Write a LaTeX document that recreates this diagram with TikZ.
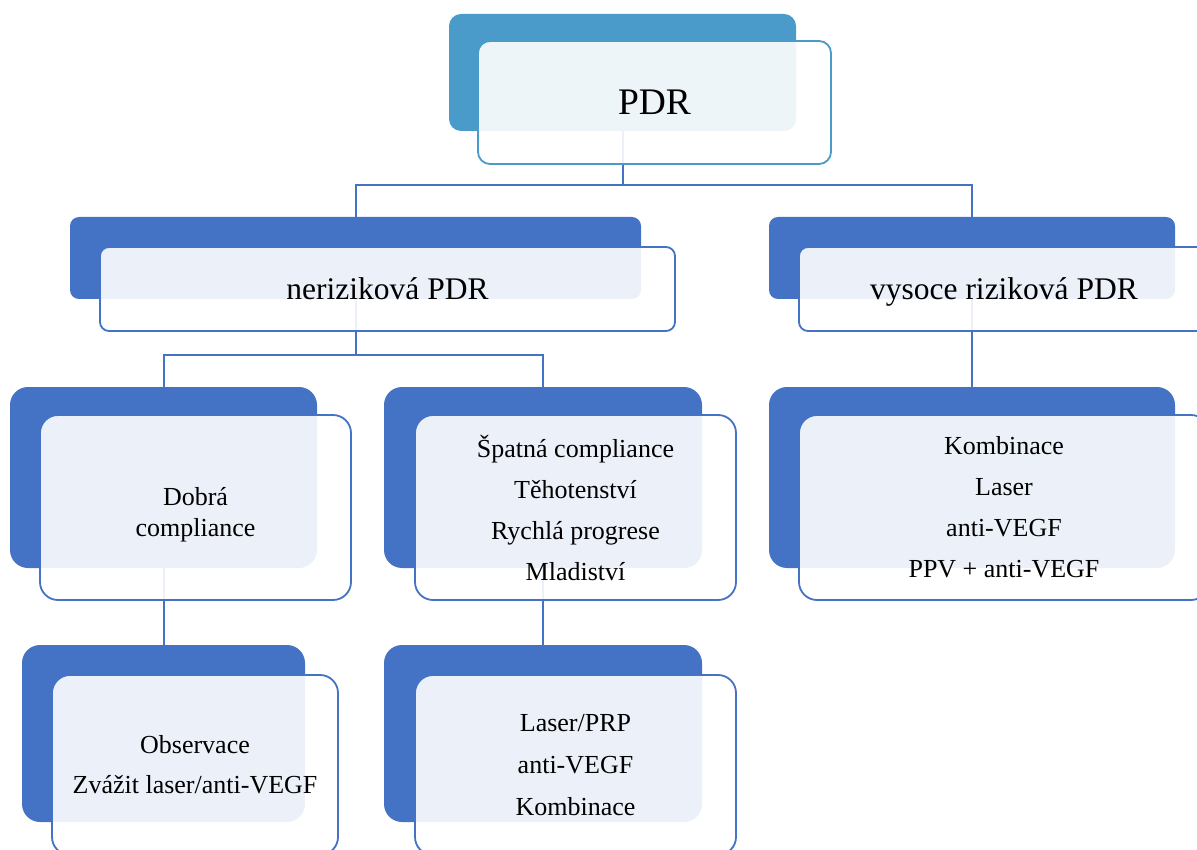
\documentclass[tikz,border=0pt]{standalone}
\usepackage{fontspec}
\setmainfont{Liberation Serif}
\definecolor{officeblue}{HTML}{4472C4}
\definecolor{topteal}{HTML}{4A9BC9}
\tikzstyle{backbox} = [rectangle, rounded corners=18pt, fill=officeblue, inner sep=0pt]
\tikzstyle{frontbox} = [rectangle, rounded corners=18pt, draw=officeblue, line width=1.8pt, fill=white, fill opacity=0.9, text opacity=1, inner sep=0pt, align=center, font={\fontsize{26}{41}\selectfont}]
\tikzstyle{link} = [draw=officeblue, line width=2pt]

\begin{document}
\begin{tikzpicture}[x=1pt, y=-1pt]

    \useasboundingbox (0,0) rectangle (1197,850);
    \clip (0,0) rectangle (1197,850);

    \node (pdrBack) [backbox, fill=topteal, rounded corners=12pt, minimum width=347pt, minimum height=117pt] at (622.5,72.5) {};
    \node (nerBack) [backbox, rounded corners=9pt, minimum width=571pt, minimum height=82pt] at (355.5,258) {};
    \node (vysBack) [backbox, rounded corners=9pt, minimum width=406pt, minimum height=82pt] at (972,258) {};
    \node (dobraBack) [backbox, minimum width=307pt, minimum height=181pt] at (163.5,477.5) {};
    \node (spatnaBack) [backbox, minimum width=318pt, minimum height=181pt] at (543,477.5) {};
    \node (kombBack) [backbox, minimum width=406pt, minimum height=181pt] at (972,477.5) {};
    \node (obsBack) [backbox, minimum width=283pt, minimum height=177pt] at (163.5,733.5) {};
    \node (laserBack) [backbox, minimum width=318pt, minimum height=177pt] at (543,733.5) {};

    \coordinate (topJoin) at (622.5,185);
    \coordinate (nerJoin) at (355.5,355);
    \draw [link] (pdrBack.south) -- (topJoin) -| (nerBack.north);
    \draw [link] (topJoin) -| (vysBack.north);
    \draw [link] (nerBack.south) -- (nerJoin) -| (dobraBack.north);
    \draw [link] (nerJoin) -| (spatnaBack.north);
    \draw [link] (vysBack.south) -- (kombBack.north);
    \draw [link] (dobraBack.south) -- (obsBack.north);
    \draw [link] (spatnaBack.south) -- (laserBack.north);

    \node (pdr) [frontbox, draw=topteal, rounded corners=12pt, minimum width=353pt, minimum height=123pt, font={\fontsize{37.5}{45}\selectfont}] at (654.5,102.5) {PDR};
    \node (ner) [frontbox, rounded corners=9pt, minimum width=575pt, minimum height=84pt, font={\fontsize{31.5}{38}\selectfont}, text depth=0pt] at (387.5,289) {nerizikov\'a PDR};
    \node (vys) [frontbox, rounded corners=9pt, minimum width=410pt, minimum height=84pt, font={\fontsize{31.5}{38}\selectfont}, text depth=0pt] at (1004,289) {vysoce rizikov\'a PDR};
    \node (dobra) [frontbox, minimum width=311pt, minimum height=185pt, font={\fontsize{26}{31}\selectfont}] at (195.5,507.5) {\rule{0pt}{33pt}Dobr\'a\\compliance};
    \node (spatna) [frontbox, minimum width=321pt, minimum height=185pt] at (575.5,507.5) {Špatná compliance\\Těhotenství\\Rychlá progrese\\Mladiství};
    \node (komb) [frontbox, minimum width=410pt, minimum height=185pt] at (1004,507.5) {Kombinace\\Laser\\anti-VEGF\\PPV + anti-VEGF};
    \node (obs) [frontbox, minimum width=286pt, minimum height=180pt, font={\fontsize{26}{40}\selectfont}] at (195,765) {Observace\\Zvážit laser/anti-VEGF};
    \node (laser) [frontbox, minimum width=321pt, minimum height=180pt, font={\fontsize{26}{42}\selectfont}] at (575.5,765) {Laser/PRP\\anti-VEGF\\Kombinace};

\end{tikzpicture}
\end{document}
